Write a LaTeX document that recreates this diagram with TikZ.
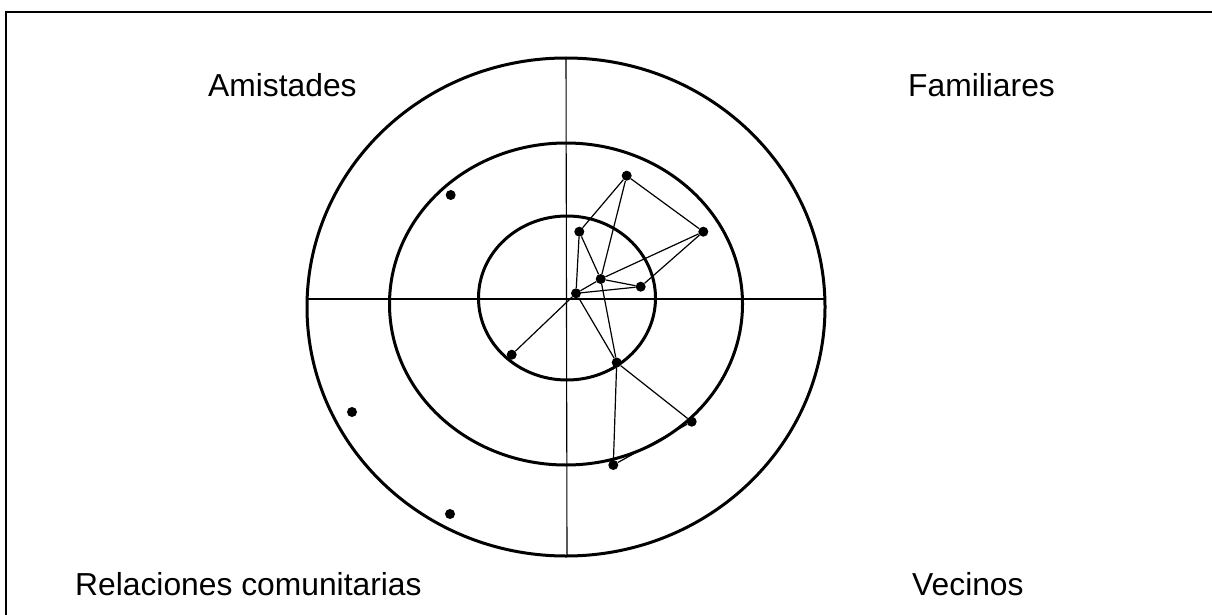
\documentclass[tikz,border=0pt]{standalone}
\usepackage{fontspec}
\setmainfont{Liberation Sans}
\begin{document}
\begin{tikzpicture}[x=1pt,y=-1pt,
  dot/.style={circle,fill=black,inner sep=0pt,minimum size=10pt},
  ring/.style={line width=3pt},
  axis/.style={line width=1.1pt},
  edge/.style={line width=1.2pt},
  lbl/.style={anchor=base west,inner sep=0pt,font=\fontsize{31.8}{36}\selectfont}]
\useasboundingbox (0,0) rectangle (1212,615);
\clip (0,0) rectangle (1212,615);
\fill[white] (0,0) rectangle (1212,615);
\draw[line width=2.4pt] (6,12) rectangle (1240,640);
% rings
\coordinate (O1) at (566,307);
\coordinate (O2) at (566,304);
\coordinate (O3) at (567,298);
\draw[ring] (O1) ellipse [x radius=259pt, y radius=249pt];
\draw[ring] (O2) ellipse [x radius=176.5pt, y radius=161pt];
\draw[ring] (O3) ellipse [x radius=88.5pt, y radius=82pt];
% axes
\coordinate (L) at (307,299);
\coordinate (R) at (826,299);
\coordinate (T) at (566,58);
\coordinate (Bt) at (567,556);
\draw[axis] (L) -- (R);
\draw[axis] (T) -- (Bt);
% labels
\node[lbl] (amis) at (208,97) {Amistades};
\node[lbl] (fam) at (908,97) {Familiares};
\node[lbl] (rel) at (75,595) {Relaciones comunitarias};
\node[lbl] (vec) at (912,595) {Vecinos};
% dots
\node[dot] (A) at (626.7,175.7) {};
\node[dot] (B) at (579.3,231.7) {};
\node[dot] (C) at (703.3,231.7) {};
\node[dot] (D) at (600.7,279) {};
\node[dot] (E) at (640.7,286.7) {};
\node[dot] (F) at (576,293.3) {};
\node[dot] (G) at (511.7,354.7) {};
\node[dot] (H) at (616.7,362.5) {};
\node[dot] (I) at (691.7,421.7) {};
\node[dot] (J) at (613.3,465) {};
\node[dot] (P1) at (450.7,195) {};
\node[dot] (P2) at (352,412) {};
\node[dot] (P3) at (450,514) {};
% connectors
\draw[edge] (A) -- (B);
\draw[edge] (A) -- (C);
\draw[edge] (A) -- (D);
\draw[edge] (B) -- (F);
\draw[edge] (B) -- (D);
\draw[edge] (C) -- (D);
\draw[edge] (C) -- (E);
\draw[edge] (D) -- (E);
\draw[edge] (F) -- (E);
\draw[edge] (F) -- (D);
\draw[edge] (F) -- (G);
\draw[edge] (F) -- (H);
\draw[edge] (D) -- (H);
\draw[edge] (H) -- (I);
\draw[edge] (H) -- (J);
\draw[edge] (J) -- (I);
\end{tikzpicture}
\end{document}
